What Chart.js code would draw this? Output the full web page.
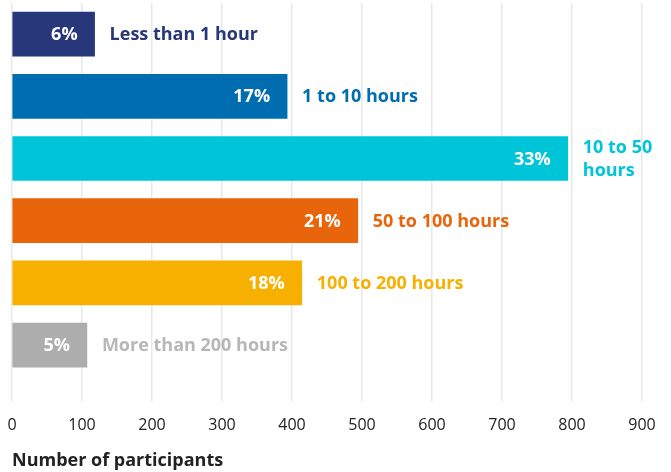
<!DOCTYPE html>
<html>
<head>
<meta charset="utf-8">
<script src="https://cdn.jsdelivr.net/npm/chart.js@4/dist/chart.umd.min.js"></script>
<style>
  html, body { margin: 0; padding: 0; background: #fff; }
  #wrap { width: 671px; height: 472px; position: relative; }
</style>
</head>
<body>
<div id="wrap"><canvas id="myChart"></canvas></div>
<script>
const categories = ['Less than 1 hour', '1 to 10 hours', '10 to 50 hours', '50 to 100 hours', '100 to 200 hours', 'More than 200 hours']
const participants = [118, 393, 794, 494, 414, 107]
const percentLabels = ['6%', '17%', '33%', '21%', '18%', '5%']
const barColors = ['#27377a', '#006db0', '#00c5d9', '#e8650c', '#f8b000', '#adadad']
const textColors = ['#27377a', '#006db0', '#00c5d9', '#e8650c', '#f8b000', '#b7b7b7']

const FONT = '"Open Sans", sans-serif'

// draws the % inside each bar and the category name after it
const barLabels = {
  id: 'barLabels',
  afterDatasetsDraw(chart) {
    const ctx = chart.ctx
    const meta = chart.getDatasetMeta(0)
    ctx.save()
    ctx.font = 'bold 18px ' + FONT
    ctx.textBaseline = 'middle'
    meta.data.forEach((bar, i) => {
      ctx.fillStyle = '#ffffff'
      ctx.textAlign = 'right'
      ctx.fillText(percentLabels[i], bar.x - 17, bar.y + 1)

      ctx.fillStyle = textColors[i]
      ctx.textAlign = 'left'
      const x = bar.x + 15
      const room = chart.width - x - 4
      const text = categories[i]
      if (ctx.measureText(text).width > room) {
        // wrap onto two lines when it runs off the canvas
        const words = text.split(' ')
        let line1 = ''
        let k = 0
        while (k < words.length && ctx.measureText((line1 + ' ' + words[k]).trim()).width <= room) {
          line1 = (line1 + ' ' + words[k]).trim()
          k++
        }
        const line2 = words.slice(k).join(' ')
        ctx.fillText(line1, x, bar.y - 11)
        ctx.fillText(line2, x, bar.y + 12)
      } else {
        ctx.fillText(text, x, bar.y + 1)
      }
    })
    ctx.restore()
  }
}

const ctx = document.getElementById('myChart')
const myChart = new Chart(ctx, {
  type: 'bar',
  data: {
    labels: categories,
    datasets: [{
      data: participants,
      backgroundColor: barColors,
      barThickness: 44,
      borderWidth: 0
    }]
  },
  options: {
    indexAxis: 'y',
    responsive: true,
    maintainAspectRatio: false,
    animation: false,
    layout: { padding: { left: 12, right: 29, top: 3, bottom: 0 } },
    plugins: {
      legend: { display: false },
      tooltip: { enabled: false }
    },
    scales: {
      x: {
        min: 0,
        max: 900,
        afterFit(scale) {
          // keep the layout padding in charge of the side margins
          scale.paddingLeft = 0
          scale.paddingRight = 0
        },
        ticks: {
          stepSize: 100,
          color: '#222',
          padding: 15,
          font: { family: FONT, size: 16 }
        },
        grid: {
          color: '#e8e8e8',
          lineWidth: 1.5,
          tickLength: 25,
          drawTicks: true
        },
        border: { display: false },
        title: {
          display: true,
          text: 'Number of participants',
          align: 'start',
          color: '#222',
          font: { family: FONT, size: 18, weight: 'bold' },
          padding: { top: 0, bottom: 0 }
        }
      },
      y: {
        display: false,
        grid: { display: false }
      }
    }
  },
  plugins: [barLabels]
})
</script>
</body>
</html>
